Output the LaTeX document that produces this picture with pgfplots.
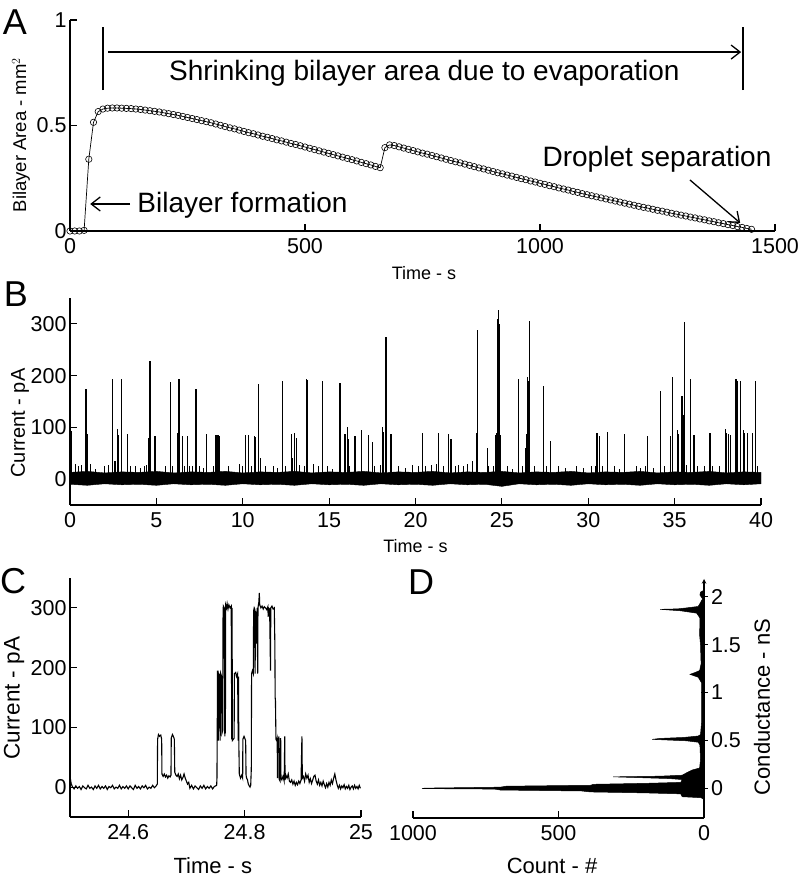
\documentclass[border=0pt]{standalone}
\usepackage{fontspec}
\setmainfont{Liberation Sans}
\usepackage{pgfplots}
\pgfplotsset{compat=1.18}
\usetikzlibrary{arrows.meta}
\pgfplotsset{
  matlab/.style={
    scale only axis,
    axis x line=bottom, axis y line=left,
    axis line style={line width=1.1pt,-},
    every outer x axis line/.append style={-},
    every outer y axis line/.append style={-},
    tick align=inside,
    major tick length=7pt,
    every tick/.style={black, line width=1.1pt},
    tick label style={font=\fontsize{21.5}{24}\selectfont},
    xticklabel style={yshift=-4pt},
    /pgf/number format/assume math mode=true,
    /pgf/number format/1000 sep={},
    enlargelimits=false,
  }
}
\begin{document}
\begin{tikzpicture}
\path[use as bounding box] (0,0) rectangle (799pt,880pt);

% ---------------- Panel A ----------------
\begin{axis}[matlab, at={(70pt,649pt)}, anchor=south west,
  width=705pt, height=211pt, clip=false,
  xmin=0, xmax=1500, ymin=0, ymax=1,
  xtick={0,500,1000,1500}, ytick={0,0.5,1},
  xlabel={Time - s}, ylabel={Bilayer Area - mm$^2$},
  xlabel style={font=\fontsize{18}{21}\selectfont, at={(axis description cs:0.502,-0.199)}, anchor=center},
  ylabel style={font=\fontsize{18.5}{21}\selectfont, at={(axis description cs:-0.0695,0.455)}, anchor=center, rotate=0},
]
\addplot[black, line width=0.7pt, mark=o, mark size=3.2pt, mark options={line width=0.6pt, fill=none}] coordinates {
(0,0)(10,0)(20,0)(30,0.003)(40,0.34)(50,0.515)(60,0.566)(70,0.578)(80,0.582)(90,0.583)
(100,0.583)(110,0.582)(120,0.581)(130,0.580)(140,0.578)(150,0.576)(160,0.573)(170,0.570)(180,0.567)(190,0.564)
(200,0.560)(210,0.556)(220,0.552)(230,0.548)(240,0.543)(250,0.538)(260,0.533)(270,0.528)(280,0.523)(290,0.518)
(300,0.513)(310,0.507)(320,0.501)(330,0.495)(340,0.489)(350,0.484)(360,0.478)(370,0.472)(380,0.466)(390,0.461)
(400,0.455)(410,0.449)(420,0.444)(430,0.438)(440,0.432)(450,0.427)(460,0.421)(470,0.415)(480,0.410)(490,0.404)
(500,0.398)(510,0.392)(520,0.386)(530,0.380)(540,0.374)(550,0.368)(560,0.362)(570,0.356)(580,0.350)(590,0.344)
(600,0.338)(610,0.332)(620,0.325)(630,0.319)(640,0.313)(650,0.306)(660,0.300)(670,0.395)(680,0.408)(690,0.405)
(700,0.399)(710,0.393)(720,0.387)(730,0.381)(740,0.375)(750,0.369)(760,0.364)(770,0.358)(780,0.352)(790,0.346)
(800,0.340)(810,0.334)(820,0.328)(830,0.323)(840,0.317)(850,0.311)(860,0.305)(870,0.299)(880,0.294)(890,0.288)
(900,0.282)(910,0.276)(920,0.271)(930,0.265)(940,0.260)(950,0.254)(960,0.248)(970,0.243)(980,0.237)(990,0.232)
(1000,0.226)(1010,0.221)(1020,0.215)(1030,0.210)(1040,0.204)(1050,0.199)(1060,0.194)(1070,0.188)(1080,0.183)(1090,0.177)
(1100,0.172)(1110,0.167)(1120,0.162)(1130,0.157)(1140,0.152)(1150,0.147)(1160,0.142)(1170,0.137)(1180,0.132)(1190,0.127)
(1200,0.122)(1210,0.117)(1220,0.112)(1230,0.108)(1240,0.103)(1250,0.098)(1260,0.094)(1270,0.089)(1280,0.084)(1290,0.080)
(1300,0.075)(1310,0.071)(1320,0.066)(1330,0.062)(1340,0.057)(1350,0.053)(1360,0.048)(1370,0.044)(1380,0.039)(1390,0.035)
(1400,0.030)(1410,0.026)(1420,0.021)(1430,0.017)(1440,0.012)(1450,0.008)
};
\draw[line width=1.6pt] (axis cs:70,0.668) -- (axis cs:70,0.967);
\draw[line width=1.6pt] (axis cs:1432,0.668) -- (axis cs:1432,0.967);
\draw[line width=1.3pt, -{Straight Barb[length=9pt,width=14pt,line width=1.3pt]}] (axis cs:81,0.848) -- (axis cs:1428,0.848);
\node[font=\fontsize{28}{32}\selectfont, anchor=center] at (axis cs:754,0.749) {Shrinking bilayer area due to evaporation};
\draw[line width=1.3pt, -{Straight Barb[length=9pt,width=14pt,line width=1.3pt]}] (axis cs:128,0.128) -- (axis cs:43,0.128);
\node[font=\fontsize{28}{32}\selectfont, anchor=west, inner sep=0pt] at (axis cs:143,0.123) {Bilayer formation};
\node[font=\fontsize{28}{32}\selectfont, anchor=center] at (axis cs:1249,0.341) {Droplet separation};
\draw[line width=1.3pt, -{Straight Barb[length=9pt,width=14pt,line width=1.3pt]}] (axis cs:1319,0.242) -- (axis cs:1426,0.038);
\end{axis}

% ---------------- Panel B ----------------
\begin{axis}[matlab, at={(70pt,375pt)}, anchor=south west,
  width=691pt, height=207pt,
  xmin=0, xmax=40, ymin=-50, ymax=350,
  xtick={0,5,...,40}, ytick={0,100,200,300},
  xlabel={Time - s}, ylabel={Current - pA},
  xlabel style={font=\fontsize{18}{21}\selectfont, at={(axis description cs:0.5,-0.198)}, anchor=center},
  ylabel style={font=\fontsize{20}{23}\selectfont, at={(axis description cs:-0.0724,0.396)}, anchor=center},
]
% baseline noise band
\addplot[fill=black, draw=black, line width=0.4pt] coordinates {
(0,13)(1,15)(2,12)(3,14)(4,13)(5,15)(6,12)(7,14)(8,13)(9,15)(10,12)(11,14)(12,13)(13,15)(14,12)(15,14)(16,13)(17,15)(18,12)(19,14)
(20,13)(21,15)(22,12)(23,14)(24,13)(25,15)(26,12)(27,14)(28,13)(29,15)(30,12)(31,14)(32,13)(33,15)(34,12)(35,14)(36,13)(37,15)(38,12)(39,14)(40,13)
(40,-9)(39,-11)(38,-9)(37,-12)(36,-10)(35,-11)(34,-9)(33,-12)(32,-10)(31,-11)(30,-9)(29,-12)(28,-10)(27,-11)(26,-9)(25,-14)(24,-10)(23,-11)(22,-9)(21,-12)
(20,-10)(19,-11)(18,-9)(17,-12)(16,-10)(15,-11)(14,-9)(13,-12)(12,-10)(11,-11)(10,-9)(9,-12)(8,-10)(7,-11)(6,-9)(5,-12)(4,-10)(3,-11)(2,-9)(1,-12)(0,-10)
} -- cycle;
% small openings
\addplot[ycomb, black, line width=1pt] coordinates {
(0.3,30)(0.5,25)(0.65,28)(1.2,30)(1.5,20)(2.0,25)(2.2,28)(2.6,35)(2.65,35)(3.5,25)(3.8,25)(4.1,22)(4.3,25)(4.45,28)
(5.5,25)(5.95,25)(6.6,25)(6.9,25)(7.1,25)(7.5,25)(7.7,22)(8.3,25)(9.2,25)(9.8,30)(10.0,25)(10.5,25)(11.0,40)(11.3,25)
(11.8,25)(12.0,22)(12.5,25)(12.9,40)(13.3,28)(13.6,25)(14.1,30)(14.4,25)(14.9,25)(15.2,20)(16.2,25)(16.9,30)(17.6,25)
(18.0,28)(18.6,25)(19.0,25)(19.4,22)(19.8,28)(20.2,25)(20.6,25)(20.9,28)(21.2,30)(21.6,25)(22.3,25)(22.5,28)(22.8,25)
(23.0,30)(23.3,35)(24.2,25)(24.5,25)(25.3,25)(25.6,20)(26.2,25)(26.9,25)(27.6,25)(28.3,25)(28.7,22)(29.3,25)(29.7,22)
(30.2,25)(30.4,25)(30.8,25)(31.5,25)(31.8,20)(32.8,25)(33.0,22)(33.3,25)(33.8,22)(34.4,25)(35.7,28)(36.3,25)(36.7,25)
(37.2,25)(37.6,25)(38.1,30)(38.6,25)(39.2,30)(39.8,25)
};
% large openings
\addplot[ycomb, black, line width=1.2pt] coordinates {
(0.1,93)(0.93,174)(1.0,87)(2.45,194)(2.74,97)(2.8,86)(2.99,193)(3.32,87)(4.55,80)(4.6,78)(4.63,228)(4.92,84)
(5.8,84)(5.83,187)(6.2,90)(6.25,88)(6.31,194)(6.52,84)(6.81,84)(7.29,174)(7.91,87)
(8.43,85)(8.48,85)(8.52,84)(8.56,85)(8.6,85)(8.64,84)
(10.17,85)(10.34,85)(10.7,84)(10.75,82)(10.9,184)(12.31,190)(12.83,87)(13.0,90)(13.1,80)(13.7,194)(13.72,192)
(14.6,75)(14.62,190)(15.63,186)(15.92,88)(16.05,100)(16.1,77)(16.5,84)(16.88,94)(17.3,85)(17.52,71)
(18.1,100)(18.15,92)(18.29,274)(18.58,88)
(20.41,90)(21.35,89)(21.89,87)(22.05,77)(23.55,89)(23.59,288)(24.15,61)
(24.66,85)(24.68,86)(24.7,60)(24.72,90)(24.75,258)(24.76,190)(24.77,305)(24.78,310)(24.79,190)(24.8,85)(24.81,190)(24.82,300)(24.825,327)(24.84,300)(24.85,200)(24.86,85)(24.88,90)(24.9,85)
(25.96,194)(26.35,60)(26.43,87)(26.5,197)(26.55,190)(26.58,305)
(27.4,84)(27.43,179)(27.81,74)(30.51,89)(30.67,84)(31.11,92)(32.08,87)(32.12,87)(33.42,84)(34.18,170)
(34.75,84)(34.88,197)(35.17,94)(35.22,88)(35.43,161)(35.48,123)(35.52,100)(35.59,303)(35.94,194)(36.12,86)(36.17,86)
(37.05,89)(37.95,97)(38.02,90)(38.1,88)(38.23,86)(38.55,194)(38.62,190)(38.82,190)(39.0,94)(39.06,90)(39.24,89)(39.53,89)(39.68,190)
};
\end{axis}

% ---------------- Panel C ----------------
\begin{axis}[matlab, at={(70pt,63pt)}, anchor=south west,
  width=291pt, height=239pt,
  xmin=24.5, xmax=25, ymin=-50, ymax=350,
  xtick={24.6,24.8,25}, xticklabels={24.6,24.8,25}, ytick={0,100,200,300},
  xlabel={Time - s}, ylabel={Current - pA},
  xlabel style={font=\fontsize{22}{25}\selectfont, at={(axis description cs:0.491,-0.205)}, anchor=center},
  ylabel style={font=\fontsize{22.5}{25}\selectfont, at={(axis description cs:-0.192,0.498)}, anchor=center},
]
\addplot[black, line width=1.1pt] coordinates {
(24.500,18)(24.502,6)(24.504,1)(24.507,-3)(24.510,2)(24.513,-2)(24.516,1)(24.519,-4)(24.522,2)(24.525,-1)
(24.528,-3)(24.531,3)(24.534,-2)(24.537,0)(24.540,-4)(24.543,2)(24.546,-2)(24.549,3)(24.552,-3)(24.555,1)
(24.558,-2)(24.561,2)(24.564,-4)(24.567,1)(24.570,-1)(24.573,3)(24.576,-3)(24.579,0)(24.582,-2)(24.585,3)
(24.588,-3)(24.591,1)(24.594,-2)(24.597,2)(24.600,-3)(24.603,2)(24.606,-1)(24.609,-4)(24.612,3)(24.615,-2)
(24.618,1)(24.621,-3)(24.624,2)(24.627,-1)(24.630,3)(24.633,-3)(24.636,0)(24.639,-2)(24.642,3)(24.645,-1)
(24.648,2)(24.650,5)(24.6505,80)(24.652,88)(24.654,85)(24.656,87)(24.6575,80)(24.658,22)(24.660,18)(24.662,22)
(24.664,17)(24.666,20)(24.668,15)(24.670,19)(24.672,17)(24.6735,20)(24.674,82)(24.676,88)(24.678,84)(24.6793,80)
(24.680,25)(24.682,20)(24.684,18)(24.686,22)(24.688,14)(24.690,20)(24.692,12)(24.694,16)(24.696,22)(24.698,15)
(24.700,10)(24.702,5)(24.704,8)(24.706,-2)(24.709,3)(24.712,-3)(24.715,2)(24.718,-1)(24.721,-4)(24.724,2)
(24.727,-2)(24.730,3)(24.733,-3)(24.736,1)(24.739,-2)(24.742,2)(24.745,-3)(24.748,1)(24.750,2)(24.752,3)
(24.7525,15)(24.7529,78)(24.7535,195)(24.754,80)(24.7545,195)(24.755,78)(24.7555,190)(24.757,188)(24.758,78)(24.759,190)
(24.7605,185)(24.761,90)(24.7625,95)(24.763,295)(24.7635,303)(24.765,300)(24.766,85)(24.7665,300)(24.767,90)(24.7675,305)
(24.769,300)(24.770,307)(24.7715,298)(24.773,305)(24.775,300)(24.777,303)(24.7775,190)(24.778,80)(24.7785,300)(24.779,78)
(24.7806,80)(24.782,82)(24.7825,190)(24.7847,192)(24.786,185)(24.788,190)(24.789,78)(24.7895,185)(24.790,80)(24.7909,22)
(24.793,15)(24.795,20)(24.7967,15)(24.797,80)(24.799,85)(24.801,80)(24.8018,78)(24.8025,20)(24.8035,15)(24.805,12)
(24.8064,5)(24.808,2)(24.8093,0)(24.8105,3)(24.8115,30)(24.812,190)(24.8135,195)(24.815,190)(24.8155,295)(24.8165,300)
(24.8175,298)(24.818,190)(24.819,295)(24.8205,240)(24.8215,300)(24.8225,190)(24.823,300)(24.8245,310)(24.8253,325)(24.826,305)
(24.828,300)(24.830,303)(24.832,298)(24.834,302)(24.836,300)(24.838,297)(24.840,302)(24.8405,285)(24.841,300)(24.843,298)
(24.8445,195)(24.845,300)(24.847,303)(24.849,298)(24.851,300)(24.852,240)(24.8525,150)(24.853,145)(24.8539,80)(24.855,78)
(24.856,82)(24.8565,15)(24.857,80)(24.858,78)(24.859,85)(24.8595,13)(24.861,10)(24.862,82)(24.8625,15)(24.864,12)
(24.866,18)(24.868,10)(24.869,85)(24.8695,12)(24.871,20)(24.873,15)(24.875,22)(24.877,10)(24.879,8)(24.881,12)
(24.883,5)(24.885,10)(24.887,3)(24.889,8)(24.891,4)(24.893,10)(24.895,6)(24.897,12)(24.8985,85)(24.8992,15)
(24.901,18)(24.903,10)(24.905,22)(24.907,15)(24.909,20)(24.911,8)(24.913,14)(24.915,6)(24.917,12)(24.919,18)
(24.921,20)(24.923,10)(24.925,5)(24.927,12)(24.929,3)(24.931,8)(24.933,2)(24.935,10)(24.937,4)(24.939,-1)
(24.941,6)(24.943,0)(24.945,8)(24.947,3)(24.949,12)(24.951,6)(24.953,15)(24.955,22)(24.957,12)(24.959,4)
(24.961,-2)(24.963,3)(24.965,-3)(24.967,2)(24.969,-1)(24.971,4)(24.973,-3)(24.975,1)(24.977,-2)(24.979,3)
(24.981,-4)(24.983,0)(24.985,2)(24.987,-3)(24.989,3)(24.991,-2)(24.993,1)(24.995,-3)(24.997,3)(24.999,-2)
};
\end{axis}

% ---------------- Panel D ----------------
\begin{axis}[matlab, axis y line=right, at={(413pt,62pt)}, anchor=south west,
  width=291pt, height=239pt,
  x dir=reverse,
  xmin=0, xmax=1000, ymin=-0.3125, ymax=2.1875,
  xtick={0,500,1000}, ytick={0,0.5,1,1.5,2},
  xlabel={Count - \#}, ylabel={Conductance - nS},
  xlabel style={font=\fontsize{22}{25}\selectfont, at={(axis description cs:0.478,-0.2)}, anchor=center},
  ylabel style={font=\fontsize{22}{25}\selectfont, at={(axis description cs:1.199,0.464)}, anchor=center, rotate=0},
]
\addplot[fill=black, draw=black, line width=0.5pt] coordinates {
(0,-0.12)(10,-0.10)(75,-0.09)(80,-0.06)(200,-0.05)(390,-0.04)(420,-0.03)(700,-0.02)(720,-0.01)(969,-0.005)
(960,0.0)(700,0.01)(680,0.02)(390,0.03)(380,0.04)(200,0.05)(80,0.06)(75,0.09)(120,0.10)(312,0.118)
(150,0.125)(75,0.135)(60,0.16)(40,0.19)(15,0.21)(12,0.3)(14,0.45)(20,0.48)(60,0.495)(178,0.51)
(150,0.52)(70,0.53)(20,0.545)(12,0.56)(8,0.7)(8,1.1)(20,1.16)(48,1.19)(30,1.21)(15,1.23)
(10,1.3)(12,1.5)(15,1.6)(14,1.78)(25,1.83)(80,1.855)(151,1.87)(90,1.875)(60,1.885)(20,1.9)
(14,1.93)(5,1.98)(14,2.02)(12,2.05)(0,2.07)
} -- cycle;
\end{axis}

% panel letters
\node[font=\fontsize{36}{40}\selectfont] at (15pt,858pt) {A};
\node[font=\fontsize{36}{40}\selectfont] at (16pt,586pt) {B};
\node[font=\fontsize{36}{40}\selectfont] at (13pt,299pt) {C};
\node[font=\fontsize{36}{40}\selectfont] at (421pt,298pt) {D};
\end{tikzpicture}
\end{document}
